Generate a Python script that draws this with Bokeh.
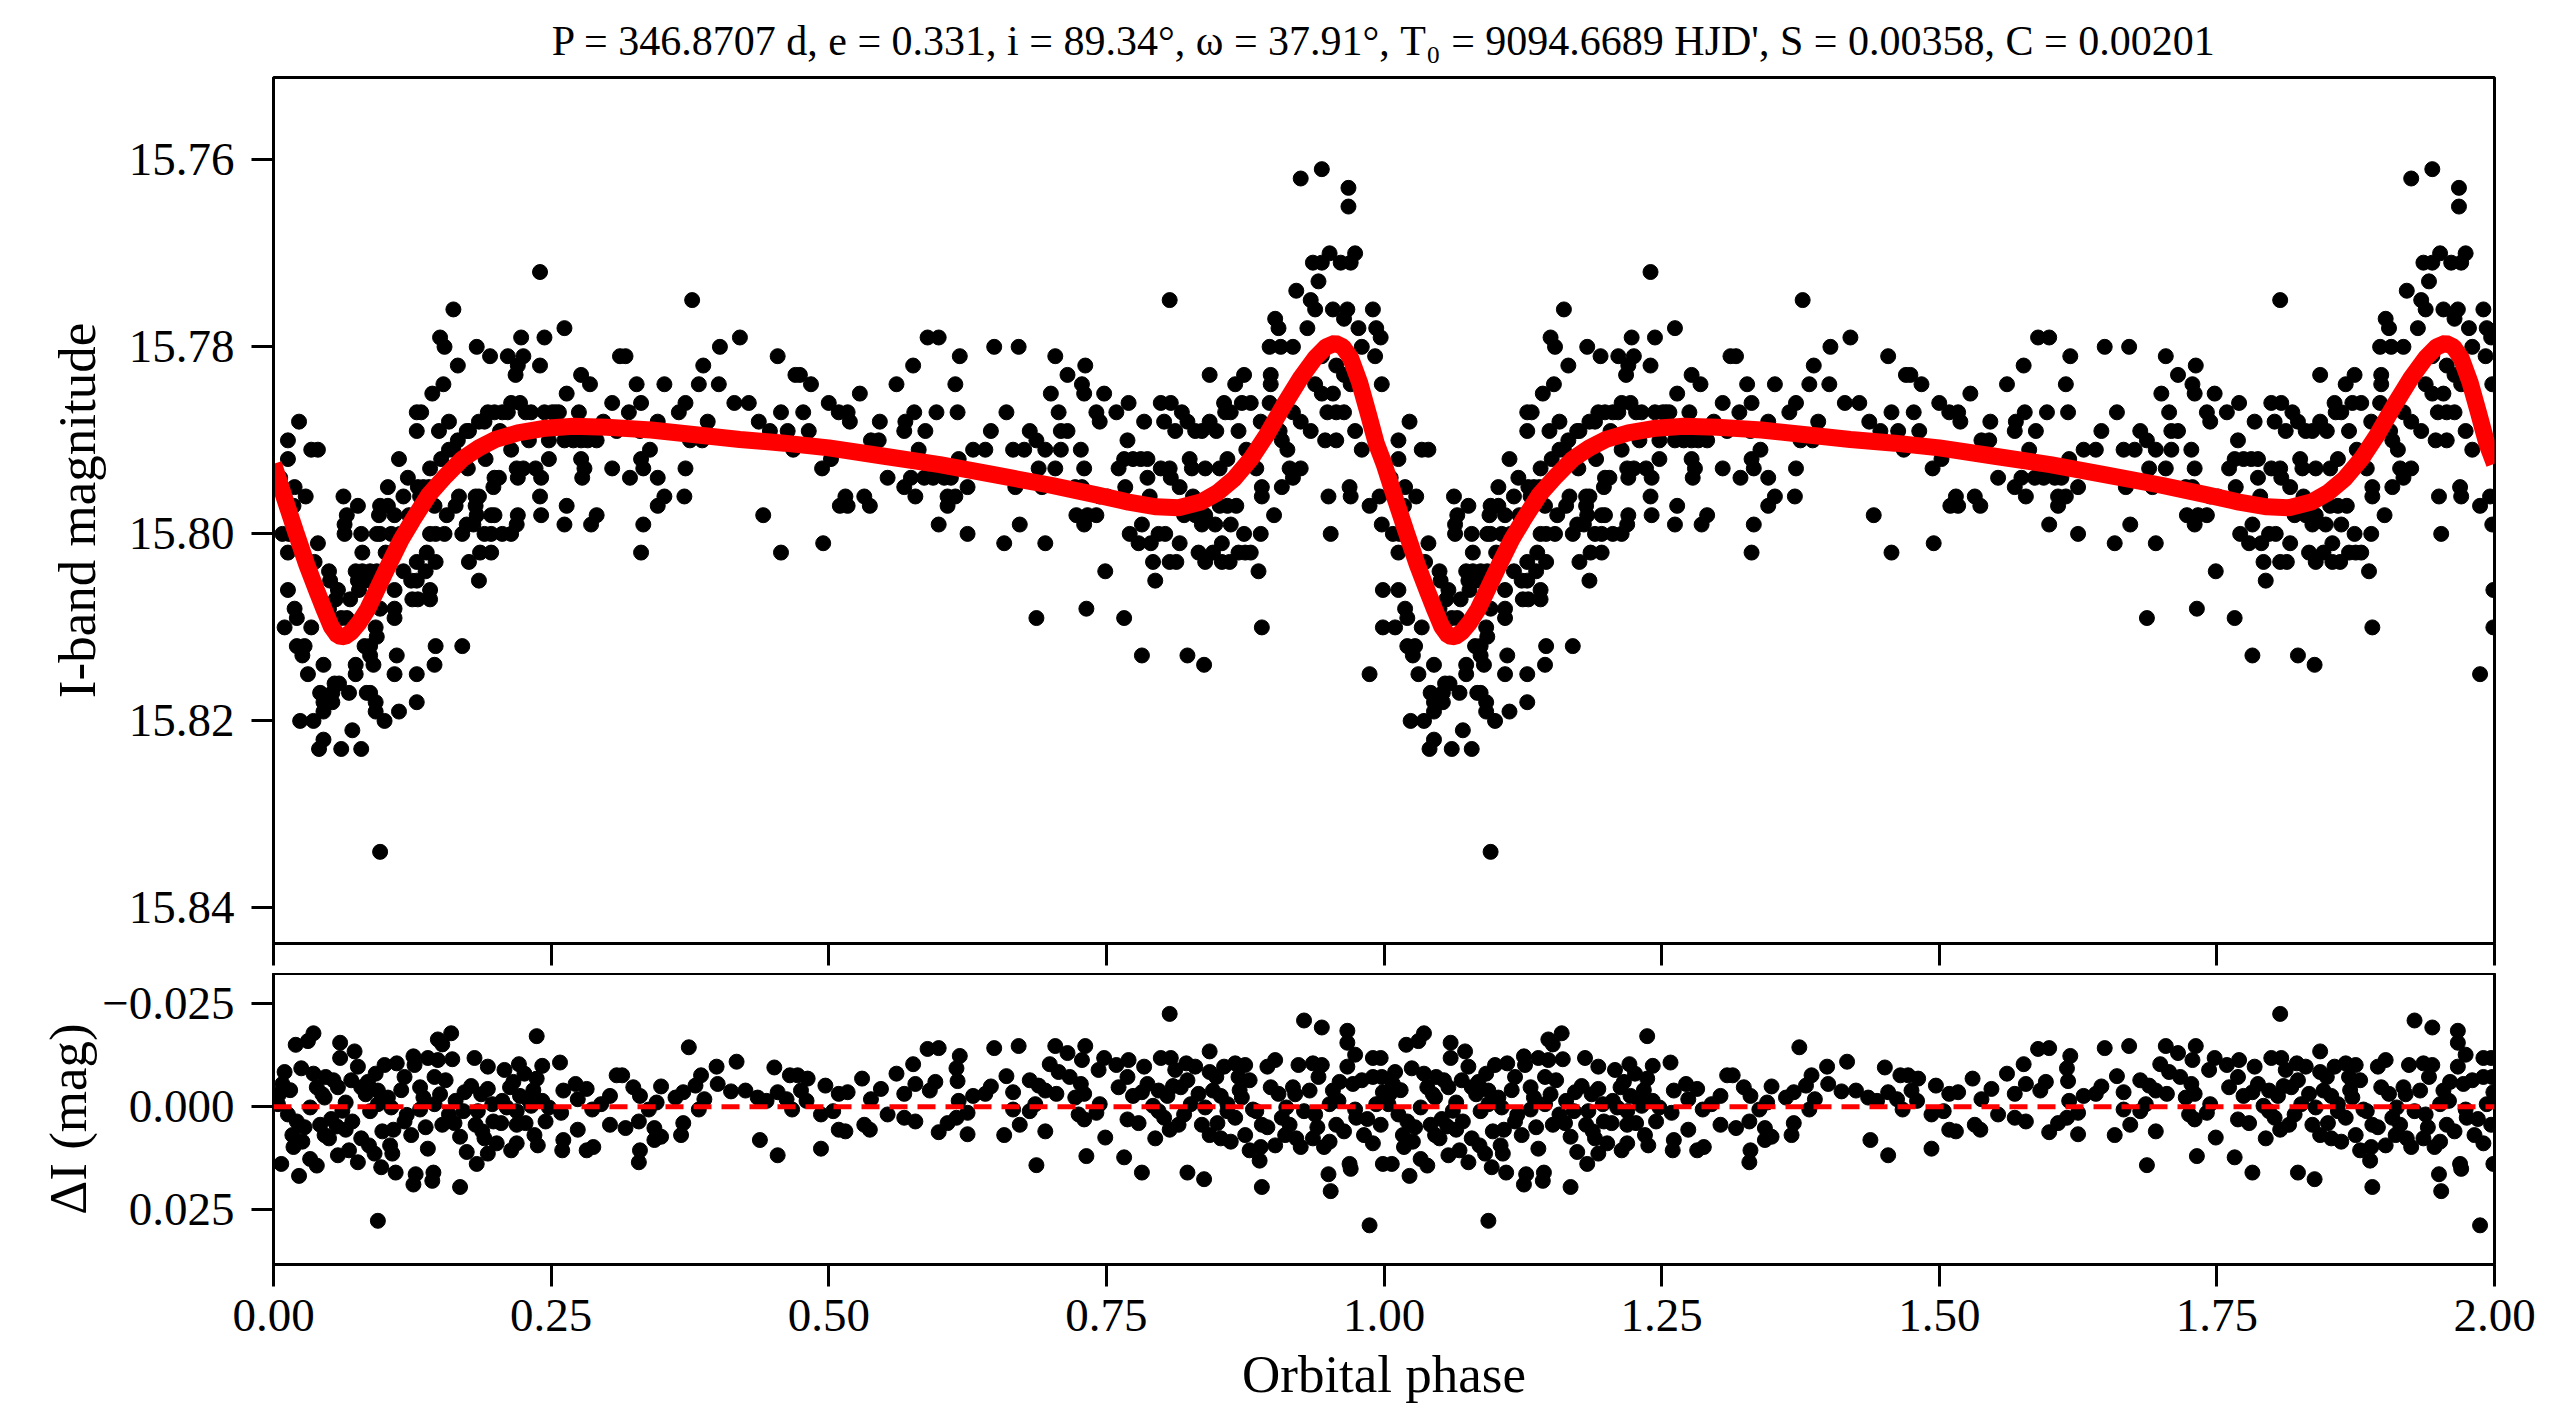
import numpy as np
from bokeh.plotting import figure
from bokeh.layouts import column
from bokeh.models import Range1d, FixedTicker, CustomJSTickFormatter, Span
from bokeh.embed import file_html
from bokeh.resources import INLINE

FONT = "Liberation Serif"

TITLE = ("P = 346.8707 d, e = 0.331, i = 89.34\u00b0, \u03c9 = 37.91\u00b0, "
         "T\u2080 = 9094.6689 HJD', S = 0.00358, C = 0.00201")
X_LABEL = "Orbital phase"
Y_LABEL_TOP = "I-band magnitude"
Y_LABEL_BOT = "\u0394I (mag)"

x_ticks = [0.0, 0.25, 0.5, 0.75, 1.0, 1.25, 1.5, 1.75, 2.0]
y_ticks_top = [15.76, 15.78, 15.80, 15.82, 15.84]
y_ticks_bot = [-0.025, 0.0, 0.025]

# observed I-band magnitudes (phase, mag), phase 0..1
obs_a = [(0.013,15.790),(0.023,15.788),(0.013,15.792),(0.006,15.794),(0.019,15.795),(0.029,15.796),(0.018,15.797),(0.008,15.800),(0.013,15.802),(0.013,15.806),(0.019,15.808),(0.010,15.810),(0.021,15.809),(0.021,15.812),(0.028,15.812),(0.026,15.813),(0.031,15.815),(0.024,15.820),(0.036,15.820),(0.010,15.796),(0.014,15.800),
(0.034,15.791),(0.040,15.791),(0.040,15.801),(0.037,15.803),(0.034,15.810),(0.045,15.814),(0.042,15.817),(0.045,15.818),(0.045,15.819),(0.045,15.822),(0.041,15.823),(0.050,15.804),(0.051,15.805),(0.058,15.806),(0.050,15.808),(0.056,15.807),(0.055,15.816),(0.059,15.816),(0.053,15.817),(0.053,15.818),(0.061,15.823),(0.063,15.796),(0.061,15.809),(0.066,15.809),(0.068,15.817),(0.066,15.798),(0.064,15.799),(0.064,15.800),(0.069,15.807),(0.071,15.821),
(0.076,15.797),(0.079,15.800),(0.080,15.802),(0.074,15.804),(0.080,15.804),(0.087,15.804),(0.093,15.804),(0.076,15.805),(0.082,15.805),(0.087,15.805),(0.077,15.806),(0.074,15.814),(0.074,15.815),(0.079,15.823),(0.082,15.812),(0.087,15.812),(0.084,15.817),(0.087,15.817),(0.087,15.813),(0.092,15.818),(0.092,15.819),(0.092,15.810),(0.093,15.811),(0.090,15.814),(0.096,15.808),(0.100,15.820),(0.096,15.834),(0.093,15.800),(0.096,15.800),(0.095,15.798),(0.096,15.797),(0.101,15.802),(0.103,15.795),(0.103,15.797)]

obs_b = [(0.109,15.798),(0.106,15.800),(0.109,15.806),(0.111,15.813),(0.109,15.815),(0.109,15.808),(0.109,15.809),(0.113,15.819),(0.113,15.792),(0.114,15.800),(0.117,15.796),(0.121,15.794),(0.117,15.804),(0.122,15.798),(0.124,15.805),(0.129,15.805),(0.125,15.807),(0.130,15.807),(0.129,15.803),(0.129,15.815),(0.129,15.818),(0.129,15.787),(0.133,15.787),(0.129,15.789),(0.130,15.795),(0.135,15.795),(0.140,15.795),(0.132,15.796),(0.137,15.804),(0.141,15.806),(0.141,15.807),(0.138,15.802),(0.141,15.800),(0.146,15.800),(0.154,15.800),(0.143,15.785),(0.141,15.793),(0.146,15.812),(0.145,15.814),(0.145,15.797),(0.146,15.803),(0.150,15.779),(0.154,15.780),(0.149,15.789),(0.153,15.784),(0.151,15.792),
(0.158,15.788),(0.158,15.791),(0.162,15.791),(0.162,15.776),(0.166,15.782),(0.156,15.798),(0.164,15.797),(0.167,15.796),(0.166,15.790),(0.170,15.812),(0.170,15.800),(0.174,15.789),(0.176,15.789),(0.175,15.793),(0.176,15.803),(0.174,15.799),(0.180,15.799),(0.182,15.796),(0.185,15.796),(0.182,15.797),(0.183,15.798),(0.183,15.780),(0.185,15.788),(0.186,15.802),(0.196,15.802),(0.185,15.805),(0.190,15.800),(0.196,15.800),(0.190,15.788),(0.193,15.787),(0.199,15.787),(0.195,15.781),(0.191,15.792),(0.196,15.798),(0.199,15.798),(0.199,15.794),(0.203,15.794),(0.198,15.795)]

obs_c = [(0.206,15.787),(0.211,15.787),(0.204,15.789),(0.206,15.800),(0.214,15.800),(0.211,15.781),(0.214,15.786),(0.222,15.786),(0.214,15.791),(0.218,15.783),(0.220,15.782),(0.225,15.781),(0.219,15.793),(0.225,15.793),(0.220,15.794),(0.220,15.798),(0.219,15.799),(0.223,15.779),(0.227,15.787),(0.232,15.787),(0.230,15.790),(0.236,15.793),(0.240,15.782),(0.240,15.796),(0.241,15.798),(0.241,15.794),(0.240,15.772),(0.244,15.779),(0.244,15.787),(0.251,15.787),(0.248,15.792),(0.248,15.790),
(0.254,15.787),(0.257,15.787),(0.262,15.778),(0.264,15.785),(0.262,15.790),(0.270,15.790),(0.264,15.797),(0.262,15.799),(0.277,15.783),(0.275,15.787),(0.277,15.790),(0.283,15.790),(0.291,15.790),(0.277,15.792),(0.280,15.793),(0.278,15.794),(0.285,15.784),(0.286,15.799),(0.291,15.798),(0.297,15.788)]

obs_d = [(0.305,15.786),(0.305,15.793),(0.312,15.781),(0.317,15.781),(0.309,15.789),(0.320,15.787),(0.321,15.794),(0.327,15.784),(0.331,15.786),(0.331,15.792),(0.333,15.793),(0.330,15.789),(0.333,15.799),(0.331,15.802),(0.339,15.791),(0.346,15.788),(0.346,15.794),(0.346,15.797),(0.352,15.796),(0.352,15.784),
(0.365,15.787),(0.371,15.786),(0.371,15.793),(0.370,15.796),(0.375,15.790),(0.377,15.775),(0.383,15.784),(0.387,15.782),(0.386,15.790),(0.391,15.788),(0.402,15.780),(0.401,15.784),
(0.415,15.786),(0.428,15.786),(0.420,15.779),(0.437,15.788),(0.441,15.798),(0.447,15.789),(0.454,15.781),(0.457,15.787),(0.457,15.802),(0.463,15.789),(0.468,15.791),(0.470,15.783),(0.474,15.783),(0.477,15.787),(0.482,15.789),(0.484,15.784),(0.494,15.793),(0.495,15.801),(0.500,15.786)]

obs_e = [(0.502,15.792),(0.509,15.787),(0.517,15.787),(0.519,15.788),(0.510,15.797),(0.515,15.796),(0.517,15.797),(0.528,15.785),(0.532,15.796),(0.537,15.797),(0.538,15.790),(0.545,15.790),(0.546,15.788),(0.553,15.794),(0.561,15.784),(0.568,15.795),(0.569,15.788),(0.568,15.789),(0.576,15.782),(0.577,15.787),(0.574,15.794),(0.578,15.796),(0.581,15.791),(0.587,15.789),(0.589,15.779),(0.599,15.779),(0.586,15.794),(0.594,15.794),(0.604,15.794),(0.610,15.794),(0.597,15.787),(0.599,15.799),(0.607,15.796),(0.614,15.796),(0.607,15.797),(0.614,15.784),(0.616,15.787),(0.618,15.781),(0.617,15.792),(0.625,15.795),(0.625,15.800),(0.630,15.791),(0.641,15.791),(0.646,15.789),(0.649,15.780),(0.658,15.801),(0.660,15.787),(0.666,15.791),(0.676,15.791),(0.671,15.780),(0.672,15.799),(0.668,15.795),(0.681,15.789),(0.687,15.790),(0.687,15.809),(0.689,15.793),(0.692,15.795),(0.695,15.801),(0.695,15.791)]

obs_f = [(0.700,15.785),(0.704,15.781),(0.704,15.793),(0.707,15.787),(0.709,15.789),(0.715,15.789),(0.709,15.791),(0.715,15.783),(0.722,15.795),(0.728,15.795),(0.723,15.798),(0.733,15.798),(0.741,15.798),(0.727,15.791),(0.728,15.784),(0.730,15.785),(0.730,15.793),(0.731,15.782),(0.730,15.799),(0.732,15.808),(0.741,15.787),(0.744,15.788),(0.748,15.785),(0.749,15.804),(0.744,15.796),(0.751,15.796),(0.759,15.787),(0.766,15.809),(0.770,15.786),(0.769,15.790),(0.767,15.795),(0.761,15.793),(0.766,15.792),(0.774,15.792),(0.781,15.792),(0.787,15.792),(0.771,15.800),(0.779,15.801),(0.782,15.799),(0.782,15.813),(0.784,15.788),(0.787,15.794),(0.789,15.796),(0.790,15.801),(0.797,15.800),(0.803,15.800),(0.792,15.803),(0.807,15.803),(0.813,15.803),(0.794,15.805),(0.799,15.786)]

obs_g = [(0.808,15.786),(0.802,15.788),(0.807,15.775),(0.799,15.793),(0.807,15.793),(0.808,15.794),(0.816,15.795),(0.812,15.789),(0.816,15.801),(0.818,15.787),(0.823,15.788),(0.823,15.813),(0.825,15.792),(0.827,15.793),(0.828,15.796),(0.830,15.789),(0.836,15.789),(0.820,15.798),(0.830,15.798),(0.839,15.798),(0.833,15.802),(0.839,15.803),(0.846,15.802),(0.838,15.814),(0.839,15.793),(0.843,15.788),(0.843,15.783),(0.836,15.799),(0.848,15.799),(0.849,15.789),(0.852,15.793),(0.852,15.797),(0.859,15.797),(0.867,15.797),(0.854,15.801),(0.854,15.803),(0.861,15.803),(0.856,15.786),(0.857,15.787),(0.862,15.787),(0.859,15.792),(0.862,15.799),(0.866,15.784),(0.874,15.783),(0.869,15.802),(0.875,15.802),(0.880,15.802),(0.869,15.789),(0.872,15.786),(0.880,15.786),(0.874,15.800),(0.889,15.800),(0.876,15.791),(0.885,15.793),(0.887,15.804),(0.889,15.788),(0.890,15.795),(0.890,15.796),(0.890,15.810),(0.897,15.780)]

obs_h = [(0.907,15.780),(0.918,15.780),(0.897,15.786),(0.898,15.783),(0.898,15.784),(0.901,15.798),(0.902,15.777),(0.905,15.778),(0.906,15.789),(0.908,15.790),(0.908,15.795),(0.913,15.791),(0.915,15.793),(0.925,15.793),(0.918,15.787),(0.925,15.788),(0.934,15.789),(0.921,15.774),(0.918,15.794),(0.931,15.778),(0.934,15.775),(0.938,15.776),(0.936,15.771),(0.944,15.771),(0.951,15.770),(0.961,15.771),(0.970,15.771),(0.974,15.770),(0.941,15.773),(0.938,15.784),(0.944,15.785),(0.954,15.785),(0.944,15.781),(0.949,15.787),(0.957,15.787),(0.964,15.787),(0.947,15.790),(0.957,15.790),(0.950,15.796),(0.952,15.800),(0.954,15.776),(0.967,15.776),(0.964,15.777),(0.957,15.782),(0.964,15.783),(0.970,15.784),(0.969,15.795),(0.970,15.796),(0.977,15.778),(0.980,15.780),(0.974,15.789),(0.980,15.791),(0.987,15.797),(0.987,15.815),(0.990,15.776),(0.992,15.781),(0.993,15.778),(0.997,15.779),(0.998,15.784),(0.996,15.796),(0.998,15.799),(0.999,15.806),(0.999,15.810),
(0.925,15.762),(0.944,15.761),(0.968,15.763),(0.968,15.765)]

# residuals (phase, O-C in mag), phase 0..1
res_a = [(0.004,-0.0006),(0.007,0.0139),(0.010,-0.0084),(0.008,-0.0055),(0.005,-0.0030),(0.020,-0.0150),(0.023,0.0168),(0.025,-0.0093),(0.017,0.0069),(0.026,0.0085),(0.018,0.0098),(0.013,0.0019),(0.021,0.0036),(0.031,-0.0159),(0.036,-0.0178),(0.033,0.0127),(0.039,0.0143),(0.036,-0.0080),(0.039,-0.0047),(0.042,0.0044),(0.046,0.0069),(0.047,-0.0072),(0.054,-0.0064),(0.058,-0.0047),(0.050,0.0077),(0.057,0.0048),(0.060,-0.0155),(0.060,-0.0118),(0.058,0.0118),(0.068,0.0106),(0.065,0.0056),(0.071,0.0036),(0.073,-0.0134),(0.076,-0.0097),(0.076,0.0135),(0.070,-0.0064),(0.079,-0.0047),(0.083,-0.0030),(0.079,0.0077),(0.086,0.0094),(0.091,0.0114),(0.097,0.0147),(0.094,0.0277),(0.092,-0.0080),(0.100,-0.0101),(0.094,-0.0039),(0.103,-0.0022),(0.105,0.0094),(0.107,0.0114),(0.108,0.0056),(0.118,0.0036),(0.110,0.0160),(0.111,-0.0105),(0.118,-0.0072),(0.124,0.0069),(0.126,-0.0122),(0.127,-0.0101),(0.128,0.0164),(0.126,0.0189),(0.132,-0.0047),(0.135,-0.0022),(0.139,-0.0118),(0.139,0.0102),(0.144,0.0160),(0.143,0.0180),(0.148,-0.0163),(0.152,-0.0151),(0.160,-0.0178),(0.148,-0.0113),(0.145,-0.0072),(0.155,-0.0064),(0.152,0.0044),(0.158,0.0019),(0.161,-0.0115),(0.164,-0.0014),(0.172,-0.0035),(0.168,0.0073),(0.168,0.0195),(0.174,0.0110),(0.181,-0.0118),(0.182,0.0044),(0.183,0.0139),(0.190,0.0077),(0.193,0.0114),(0.187,-0.0030),(0.193,-0.0043),(0.193,-0.0097),(0.198,0.0036),(0.201,0.0089),(0.208,-0.0089),(0.210,0.0002),(0.214,0.0106),(0.219,0.0089),(0.213,-0.0047),(0.221,-0.0103),(0.226,-0.0080),(0.219,0.0044),(0.222,-0.0026),(0.229,-0.0018),(0.237,-0.0171),(0.237,-0.0068),(0.242,-0.0099),(0.238,0.0094),(0.235,0.0069),(0.245,0.0036),(0.242,-0.0014),
(0.033,0.0002),(0.046,-0.0022),(0.065,-0.0010),(0.087,0.0011),(0.094,-0.0006),(0.106,0.0002),(0.132,0.0007),(0.145,-0.0006),(0.171,0.0011),(0.184,0.0011),(0.197,-0.0006),(0.206,-0.0014),(0.219,0.0011),(0.232,-0.0002),(0.248,0.0002),
(0.015,-0.0040),(0.028,0.0050),(0.044,-0.0030),(0.052,0.0030),(0.062,0.0010),(0.085,-0.0060),(0.098,0.0060),(0.115,-0.0040),(0.120,0.0020),(0.137,0.0050),(0.150,-0.0030),(0.163,0.0040),(0.178,-0.0050),(0.188,0.0060),(0.205,0.0040),(0.216,-0.0060),(0.227,0.0040),(0.234,-0.0040)]

res_b = [(0.258,-0.0107),(0.260,0.0106),(0.261,0.0081),(0.261,-0.0039),(0.259,0.0015),(0.272,-0.0055),(0.282,-0.0043),(0.274,-0.0018),(0.274,0.0056),(0.282,0.0106),(0.288,0.0098),(0.287,0.0007),(0.295,-0.0006),(0.303,-0.0026),(0.303,0.0044),(0.309,-0.0076),(0.314,-0.0076),(0.317,0.0052),(0.324,-0.0047),(0.330,-0.0026),(0.329,0.0036),(0.330,0.0106),(0.329,0.0135),(0.338,0.0007),(0.345,-0.0010),(0.343,0.0052),(0.349,0.0073),(0.343,0.0081),(0.349,-0.0049),(0.362,-0.0022),(0.369,-0.0035),(0.367,0.0069),(0.369,0.0040),(0.374,-0.0144),(0.380,-0.0051),(0.385,-0.0076),(0.383,0.0007),(0.388,-0.0018),(0.399,-0.0097),(0.400,-0.0055),(0.412,-0.0037),(0.417,-0.0109),(0.425,-0.0039),(0.436,-0.0022),(0.444,-0.0014),(0.438,0.0081),(0.451,-0.0095),(0.454,-0.0035),(0.462,-0.0018),(0.454,0.0118),(0.465,-0.0076),(0.472,-0.0076),(0.467,0.0007),(0.475,-0.0039),(0.480,-0.0014),(0.481,-0.0068),(0.493,0.0019),(0.493,0.0102),(0.497,-0.0051)]

res_c = [(0.509,-0.0031),(0.517,-0.0035),(0.509,0.0056),(0.515,0.0060),(0.504,0.0011),(0.530,-0.0068),(0.532,0.0044),(0.537,0.0056),(0.538,-0.0018),(0.547,-0.0043),(0.553,0.0019),(0.561,-0.0080),(0.568,-0.0031),(0.576,-0.0103),(0.578,-0.0055),(0.568,0.0027),(0.578,0.0036),(0.589,-0.0140),(0.599,-0.0142),(0.591,-0.0039),(0.596,-0.0060),(0.599,0.0062),(0.607,0.0040),(0.615,0.0027),(0.618,-0.0123),(0.615,-0.0093),(0.616,-0.0062),(0.617,-0.0014),(0.625,0.0067),(0.625,0.0015),(0.630,-0.0026),(0.641,-0.0031),(0.646,-0.0049),(0.649,-0.0142),(0.658,0.0069),(0.660,-0.0074),(0.666,-0.0035),(0.666,0.0007),(0.671,-0.0147),(0.672,0.0044),(0.681,-0.0064),(0.689,-0.0051),(0.686,-0.0006),(0.681,0.0011),(0.687,0.0142),(0.695,0.0060),(0.695,-0.0039),(0.699,-0.0103),(0.704,-0.0147),(0.707,-0.0084),(0.705,-0.0031),(0.715,-0.0130),(0.717,-0.0072),(0.722,-0.0022),(0.725,0.0019),(0.727,-0.0055),(0.730,-0.0031),(0.731,-0.0147),(0.728,-0.0113),(0.732,0.0120),(0.730,0.0031),(0.741,0.0015),(0.744,-0.0006),(0.743,-0.0089),(0.748,-0.0118),(0.749,0.0075)]

res_d = [(0.759,-0.0101),(0.770,-0.0113),(0.761,-0.0047),(0.769,-0.0072),(0.766,0.0123),(0.769,0.0031),(0.779,0.0040),(0.774,-0.0026),(0.782,-0.0035),(0.782,0.0160),(0.784,-0.0097),(0.787,-0.0055),(0.792,-0.0002),(0.794,0.0077),(0.799,-0.0118),(0.808,-0.0118),(0.797,-0.0039),(0.805,-0.0026),(0.807,-0.0225),(0.802,0.0027),(0.807,0.0056),(0.815,0.0044),(0.812,-0.0089),(0.817,-0.0047),(0.823,-0.0064),(0.822,-0.0105),(0.830,-0.0097),(0.823,0.0160),(0.826,-0.0006),(0.833,-0.0031),(0.836,0.0044),(0.843,0.0069),(0.838,0.0176),(0.843,-0.0134),(0.843,-0.0084),(0.849,-0.0072),(0.846,-0.0039),(0.853,-0.0026),(0.856,-0.0097),(0.866,-0.0105),(0.875,-0.0101),(0.853,0.0077),(0.862,0.0085),(0.859,0.0011),(0.866,0.0027),(0.869,-0.0072),(0.879,-0.0064),(0.872,-0.0022),(0.882,0.0007),(0.875,0.0069),(0.879,0.0106),(0.889,0.0098),(0.888,0.0131),(0.890,0.0195),(0.890,0.0044),(0.895,-0.0097),(0.902,-0.0113),(0.898,-0.0047),(0.905,-0.0031),(0.902,0.0094),(0.911,0.0069),(0.908,0.0027),(0.915,0.0044),(0.918,-0.0047),(0.923,-0.0101),(0.925,0.0098),(0.921,0.0077),(0.928,-0.0209),(0.933,-0.0039),(0.936,0.0077),(0.936,-0.0105),(0.944,-0.0101),(0.944,-0.0192),(0.941,-0.0072),(0.938,0.0019),(0.946,0.0098),(0.951,0.0085),(0.950,0.0164),(0.952,0.0205),(0.954,-0.0039),(0.959,-0.0014),(0.957,0.0044),(0.964,0.0060),(0.967,-0.0184),(0.967,-0.0155),(0.969,0.0139),(0.970,0.0151),(0.974,-0.0126),(0.967,-0.0097),(0.972,-0.0055),(0.980,-0.0064),(0.975,0.0027),(0.982,0.0069),(0.987,0.0288),(0.990,-0.0118),(0.997,-0.0118),(0.990,-0.0072),(0.998,-0.0072),(0.990,0.0089),(0.997,0.0044),(0.999,0.0139),(0.999,-0.0035),
(0.797,0.0011),(0.820,0.0019),(0.839,0.0002),(0.859,-0.0006),(0.885,0.0011),(0.912,0.0002),(0.928,0.0011),(0.951,-0.0006),(0.974,0.0007),(0.993,-0.0006),(0.810,-0.0050),(0.850,0.0040),(0.870,-0.0040),(0.895,0.0050),(0.920,-0.0030),(0.940,0.0050),(0.960,-0.0060),(0.985,0.0030)]

# fitted model light curve (phase, mag), one cycle
model_curve = [(0.000,15.7925),(0.010,15.7962),(0.020,15.7998),(0.030,15.8033),(0.040,15.8064),(0.046,15.8082),(0.052,15.8099),(0.058,15.8109),(0.064,15.8110),(0.070,15.8105),(0.077,15.8095),(0.085,15.8080),(0.095,15.8055),(0.105,15.8030),(0.115,15.8006),(0.125,15.7986),(0.140,15.7958),(0.155,15.7938),(0.170,15.7920),(0.185,15.7908),(0.200,15.7899),(0.220,15.7892),(0.245,15.7887),(0.270,15.7885),(0.300,15.7886),(0.340,15.7889),(0.380,15.7894),(0.420,15.7899),(0.460,15.7903),(0.500,15.7908),(0.550,15.7917),(0.600,15.7926),(0.650,15.7937),(0.700,15.7948),(0.740,15.7958),(0.770,15.7966),(0.795,15.7971),(0.815,15.7972),(0.835,15.7966),(0.850,15.7956),(0.865,15.7941),(0.880,15.7920),(0.895,15.7893),(0.910,15.7862),(0.925,15.7833),(0.938,15.7812),(0.948,15.7800),(0.956,15.7796),(0.963,15.7800),(0.970,15.7812),(0.978,15.7838),(0.986,15.7872),(0.993,15.7903),(1.000,15.7925)]

obs = obs_a + obs_b + obs_c + obs_d + obs_e + obs_f + obs_g + obs_h
res = res_a + res_b + res_c + res_d

ph = np.array([o[0] for o in obs]); mg = np.array([o[1] for o in obs])
rph = np.array([o[0] for o in res]); rv = np.array([o[1] for o in res])
mph = np.array([o[0] for o in model_curve]); mmg = np.array([o[1] for o in model_curve])

# two cycles shown
ph2 = np.concatenate([ph, ph + 1]); mg2 = np.concatenate([mg, mg])
rph2 = np.concatenate([rph, rph + 1]); rv2 = np.concatenate([rv, rv])
mph2 = np.concatenate([mph, mph[1:] + 1]); mmg2 = np.concatenate([mmg, mmg[1:]])

W = 2559
LEFT = 273
RIGHT = 65


def style_axis(ax, size="47px"):
    ax.axis_line_width = 3
    ax.axis_line_color = "black"
    ax.major_tick_line_width = 3
    ax.major_tick_line_color = "black"
    ax.major_tick_out = 22
    ax.major_tick_in = 0
    ax.minor_tick_out = 0
    ax.minor_tick_in = 0
    ax.minor_tick_line_color = None
    ax.major_label_text_font = FONT
    ax.major_label_text_font_size = size
    ax.major_label_text_color = "black"
    ax.axis_label_text_font = FONT
    ax.axis_label_text_font_size = "53px"
    ax.axis_label_text_font_style = "normal"
    ax.axis_label_text_color = "black"


p1 = figure(width=W, height=973, x_range=Range1d(0, 2), y_range=Range1d(15.8438, 15.7512),
            output_backend="svg", toolbar_location=None,
            min_border_left=LEFT, min_border_right=RIGHT, min_border_top=77, min_border_bottom=30,
            title=TITLE)
p1.title.align = "center"
p1.title.text_font = FONT
p1.title.text_font_size = "42px"
p1.title.text_font_style = "normal"
p1.title.text_color = "black"
p1.title.standoff = 27
p1.grid.visible = False
p1.outline_line_color = "black"
p1.outline_line_width = 3
p1.outline_line_alpha = 1
p1.background_fill_color = "white"
p1.border_fill_color = "white"

style_axis(p1.xaxis[0])
p1.xaxis.ticker = FixedTicker(ticks=x_ticks)
p1.xaxis.formatter = CustomJSTickFormatter(code="return '';")
p1.xaxis.major_label_standoff = 0
style_axis(p1.yaxis[0])
p1.yaxis.ticker = FixedTicker(ticks=y_ticks_top)
p1.yaxis.formatter = CustomJSTickFormatter(code="return tick.toFixed(2);")
p1.yaxis.major_label_standoff = 17
p1.yaxis.axis_label = Y_LABEL_TOP
p1.yaxis.axis_label_standoff = 20

p1.scatter(ph2, mg2, size=15, color="black", line_color="black")
p1.line(mph2, mmg2, line_width=17, color="red")

p2 = figure(width=W, height=451, x_range=p1.x_range, y_range=Range1d(0.0383, -0.0323),
            output_backend="svg", toolbar_location=None,
            min_border_left=LEFT, min_border_right=RIGHT, min_border_top=0, min_border_bottom=160)
p2.grid.visible = False
p2.outline_line_color = "black"
p2.outline_line_width = 3
p2.outline_line_alpha = 1
p2.background_fill_color = "white"
p2.border_fill_color = "white"

style_axis(p2.xaxis[0])
p2.xaxis.ticker = FixedTicker(ticks=x_ticks)
p2.xaxis.formatter = CustomJSTickFormatter(code="return tick.toFixed(2);")
p2.xaxis.major_label_standoff = 13
p2.xaxis.axis_label = X_LABEL
p2.xaxis.axis_label_standoff = 11
style_axis(p2.yaxis[0])
p2.yaxis.ticker = FixedTicker(ticks=y_ticks_bot)
p2.yaxis.formatter = CustomJSTickFormatter(
    code="var s = Math.abs(tick).toFixed(3); return (tick < -1e-9 ? '\\u2212' : '') + s;")
p2.yaxis.major_label_standoff = 17
p2.yaxis.axis_label = Y_LABEL_BOT
p2.yaxis.axis_label_standoff = 2

p2.scatter(rph2, rv2, size=15, color="black", line_color="black")
p2.add_layout(Span(location=0, dimension="width", line_color="red", line_width=5, line_dash="18 10"))

layout = column(p1, p2, spacing=0)
open("out.html", "w").write(file_html(layout, INLINE))
